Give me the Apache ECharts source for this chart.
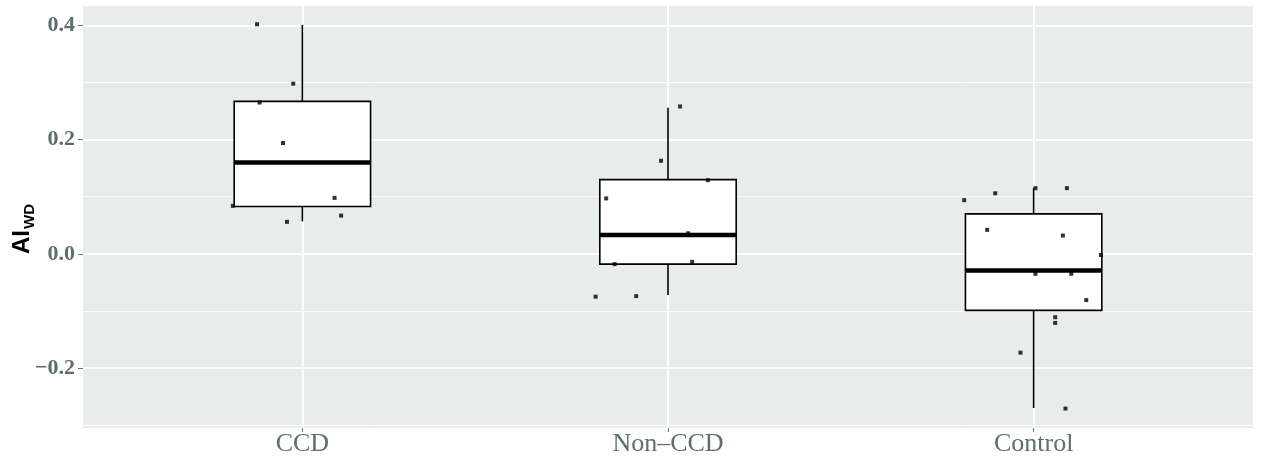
<!DOCTYPE html>
<html>
<head>
<meta charset="utf-8">
<script src="https://cdn.jsdelivr.net/npm/echarts@6/dist/echarts.min.js"></script>
<style>html,body{margin:0;padding:0;background:#fff;}#c{width:1264px;height:462px;}</style>
</head>
<body>
<div id="c"></div>
<script>
// ---- data ----
var categories = ['CCD', 'Non\u2013CCD', 'Control'];
var categoryPos = [1, 2, 3];
// box stats: [min, Q1, median, Q3, max]
var ccdBox = [0.057, 0.083, 0.160, 0.267, 0.401];
var nonCcdBox = [-0.072, -0.018, 0.033, 0.130, 0.256];
var controlBox = [-0.270, -0.099, -0.029, 0.070, 0.115];
// jittered points: [x, y]
var ccdPoints = [[0.876, 0.402], [0.975, 0.298], [0.883, 0.265], [0.947, 0.194], [0.810, 0.084], [1.088, 0.098], [1.106, 0.067], [0.958, 0.056]];
var nonCcdPoints = [[2.033, 0.258], [1.981, 0.163], [2.109, 0.129], [1.831, 0.097], [2.055, 0.036], [1.854, -0.018], [2.066, -0.014], [1.802, -0.075], [1.913, -0.074]];
var controlPoints = [[2.810, 0.094], [2.895, 0.106], [3.005, 0.115], [3.091, 0.115], [2.873, 0.042], [3.080, 0.032], [3.184, -0.002], [3.005, -0.035], [3.103, -0.035], [3.144, -0.081], [3.059, -0.111], [3.059, -0.121], [2.964, -0.173], [3.087, -0.271]];
var yMajorTicks = [-0.2, 0, 0.2, 0.4];
var yMinorTicks = [-0.3, -0.1, 0.1, 0.3];

// ---- build ----
var boxes = [ccdBox, nonCcdBox, controlBox].map(function (b, i) { return [categoryPos[i]].concat(b); });
var points = ccdPoints.concat(nonCcdPoints, controlPoints);
var labelColor = '#5d6e6e';

var chart = echarts.init(document.getElementById('c'), null, { renderer: 'canvas' });
chart.setOption({
  animation: false,
  grid: { left: 83, right: 11, top: 6, bottom: 34, show: true, backgroundColor: '#e8ecea', borderWidth: 0, outerBoundsMode: 'none', containLabel: false },
  xAxis: {
    type: 'value', min: 0.4, max: 3.6,
    axisLine: { show: false, onZero: false },
    axisTick: { show: true, customValues: categoryPos, length: 4, lineStyle: { color: '#6a7a7a', width: 1 } },
    axisLabel: {
      customValues: categoryPos, margin: 3,
      formatter: function (v) { return categories[Math.round(v) - 1]; },
      fontFamily: 'Liberation Serif', fontSize: 26, color: labelColor
    },
    splitLine: { show: true, lineStyle: { color: '#ffffff', width: 2 } }
  },
  yAxis: [{
    type: 'value', min: -0.305, max: 0.434,
    name: '{a|AI}{b|WD}', nameLocation: 'middle', nameGap: 46, nameRotate: 90, nameMoveOverlap: false,
    nameTextStyle: {
      rich: {
        a: { fontFamily: 'Liberation Sans', fontWeight: 'bold', fontSize: 24, color: '#000' },
        b: { fontFamily: 'Liberation Sans', fontWeight: 'bold', fontSize: 15, color: '#000', padding: [14, 24, 0, 1] }
      }
    },
    axisLine: { show: false, onZero: false },
    axisTick: { show: true, customValues: yMajorTicks, length: 5, lineStyle: { color: '#6a7a7a', width: 1 } },
    axisLabel: {
      customValues: yMajorTicks, margin: 8,
      formatter: function (v) { var s = Math.abs(v).toFixed(1); return v < -1e-9 ? '\u2212' + s : s; },
      fontFamily: 'Liberation Serif', fontWeight: 'bold', fontSize: 22, color: labelColor
    },
    splitLine: { show: true, lineStyle: { color: '#ffffff', width: 2 } }
  }, {
    type: 'value', min: -0.305, max: 0.434, position: 'left',
    axisLine: { show: false, onZero: false },
    axisTick: { show: false, customValues: yMinorTicks },
    axisLabel: { show: false, customValues: yMinorTicks },
    splitLine: { show: true, lineStyle: { color: '#ffffff', width: 1 } }
  }],
  series: [{
    type: 'custom',
    data: boxes,
    encode: { x: 0, y: [1, 2, 3, 4, 5] },
    z: 3,
    renderItem: function (params, api) {
      var x = api.value(0);
      var pMin = api.coord([x, api.value(1)]);
      var pQ1 = api.coord([x, api.value(2)]);
      var pMed = api.coord([x, api.value(3)]);
      var pQ3 = api.coord([x, api.value(4)]);
      var pMax = api.coord([x, api.value(5)]);
      var w = api.size([0.373, 0])[0];
      var ls = { stroke: '#000', lineWidth: 1.6 };
      return {
        type: 'group',
        children: [
          { type: 'line', shape: { x1: pMax[0], y1: pMax[1], x2: pQ3[0], y2: pQ3[1] }, style: ls },
          { type: 'line', shape: { x1: pQ1[0], y1: pQ1[1], x2: pMin[0], y2: pMin[1] }, style: ls },
          { type: 'rect', shape: { x: pQ3[0] - w / 2, y: pQ3[1], width: w, height: pQ1[1] - pQ3[1] }, style: { fill: '#fff', stroke: '#000', lineWidth: 1.6 } },
          { type: 'line', shape: { x1: pMed[0] - w / 2, y1: pMed[1], x2: pMed[0] + w / 2, y2: pMed[1] }, style: { stroke: '#000', lineWidth: 4.5 } }
        ]
      };
    }
  }, {
    type: 'scatter',
    data: points,
    symbol: 'rect',
    symbolSize: 4,
    itemStyle: { color: '#000' },
    z: 5
  }]
});
</script>
</body>
</html>
